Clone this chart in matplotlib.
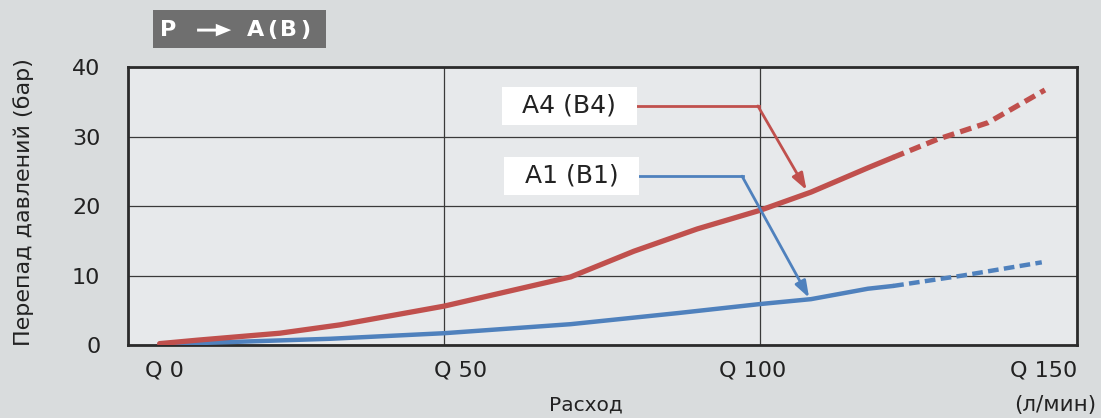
import matplotlib

matplotlib.use("Agg")
import matplotlib.pyplot as plt
from matplotlib.patches import FancyArrow, Rectangle
from matplotlib.transforms import blended_transform_factory

plt.rcParams["font.family"] = ["DejaVu Sans"]

# flow (l/min) and pressure drop (bar)
a4_flow = [5, 11, 24, 33.5, 50, 70, 80, 90, 100, 108, 117, 121]
a4_dp = [0.2, 0.7, 1.7, 2.9, 5.6, 9.8, 13.5, 16.7, 19.4, 22.0, 25.5, 27.0]
a4_ext_flow = [121, 128, 136, 145]
a4_ext_dp = [27.0, 29.6, 32.0, 36.7]

a1_flow = [5, 32, 50, 70, 87, 100, 108, 117, 121]
a1_dp = [0.1, 0.9, 1.7, 3.0, 4.6, 5.9, 6.6, 8.1, 8.5]
a1_ext_flow = [121, 132, 144.5]
a1_ext_dp = [8.5, 10.0, 11.9]

x_ticks = [0, 50, 100, 150]
x_tick_pos = [5.8, 52.6, 98.7, 144.8]
x_tick_labels = ["Q 0", "Q 50", "Q 100", "Q 150"]
y_ticks = [0, 10, 20, 30, 40]

RED = "#c0504d"
BLUE = "#4f81bd"
INK = "#222222"

fig = plt.figure(figsize=(11.01, 4.18), dpi=100, facecolor="#d9dcdd")
ax = fig.add_axes([0.1163, 0.1746, 0.8615, 0.665], facecolor="#e7e9eb")

ax.plot(a4_flow, a4_dp, color=RED, lw=3.8, solid_capstyle="round", zorder=4)
ax.plot(a4_ext_flow, a4_ext_dp, color=RED, lw=3.8, ls=(0, (2.2, 1.2)), zorder=4)
ax.plot(a1_flow, a1_dp, color=BLUE, lw=3.2, solid_capstyle="round", zorder=3)
ax.plot(a1_ext_flow, a1_ext_dp, color=BLUE, lw=3.2, ls=(0, (2.4, 1.2)), zorder=3)

ax.set_xlim(0, 150)
ax.set_ylim(0, 40)
ax.set_xticks(x_ticks)
ax.set_xticklabels([])
ax.set_yticks(y_ticks)
ax.tick_params(axis="both", length=0, labelsize=16, colors=INK)
ax.tick_params(axis="y", pad=20)
ax.grid(True, color="#3a3a3a", lw=0.9)
ax.set_axisbelow(True)
for spine in ax.spines.values():
    spine.set_color("#2b2b2b")
    spine.set_linewidth(2.0)

trans = blended_transform_factory(ax.transData, ax.transAxes)
for pos, lab in zip(x_tick_pos, x_tick_labels):
    ax.text(pos, -0.09, lab, transform=trans, ha="center", va="center",
            fontsize=16, color=INK)

fig.text(0.021, 0.517, "Перепад давлений (бар)", rotation=90, ha="center",
         va="center", fontsize=16, color=INK)
fig.text(0.532, 0.032, "Расход", ha="center", va="center", fontsize=14.5,
         color=INK)
fig.text(0.996, 0.030, "(л/мин)", ha="right", va="center", fontsize=15.5,
         color=INK)

# title box "P -> A(B)"
fig.patches.append(Rectangle((0.139, 0.885), 0.157, 0.092,
                             transform=fig.transFigure, fc="#6f6f6f",
                             ec="none", zorder=0))
title_chars = [("P", 0.153), ("A", 0.2325), ("(", 0.2475), ("B", 0.2620), (")", 0.2775)]
for ch, xpos in title_chars:
    fig.text(xpos, 0.928, ch, ha="center", va="center", fontsize=16,
             fontweight="bold", color="white")
fig.patches.append(FancyArrow(0.179, 0.928, 0.031, 0, width=0.007,
                              head_width=0.03, head_length=0.014,
                              length_includes_head=True,
                              transform=fig.transFigure, fc="white",
                              ec="none", zorder=2))

# callouts
ax.add_patch(Rectangle((59.2, 31.65), 21.3, 5.45, fc="white", ec="none", zorder=6))
ax.add_patch(Rectangle((59.5, 21.6), 21.3, 5.45, fc="white", ec="none", zorder=6))
ax.text(69.8, 34.4, "A4 (B4)", ha="center", va="center", fontsize=18,
        color=INK, zorder=7)
ax.text(70.1, 24.4, "A1 (B1)", ha="center", va="center", fontsize=18,
        color=INK, zorder=7)

ax.plot([80.5, 99.8], [34.4, 34.4], color=RED, lw=2, zorder=5)
ax.annotate("", xy=(107.3, 22.3), xytext=(99.6, 34.4),
            arrowprops=dict(arrowstyle="-|>,head_length=1.0,head_width=0.35",
                            color=RED, lw=2, shrinkA=0, shrinkB=0), zorder=5)
ax.plot([80.8, 97.3], [24.3, 24.3], color=BLUE, lw=2, zorder=5)
ax.annotate("", xy=(107.7, 6.8), xytext=(97.1, 24.3),
            arrowprops=dict(arrowstyle="-|>,head_length=1.0,head_width=0.35",
                            color=BLUE, lw=2, shrinkA=0, shrinkB=0), zorder=5)

fig.savefig("out.png", dpi=100, facecolor=fig.get_facecolor())
